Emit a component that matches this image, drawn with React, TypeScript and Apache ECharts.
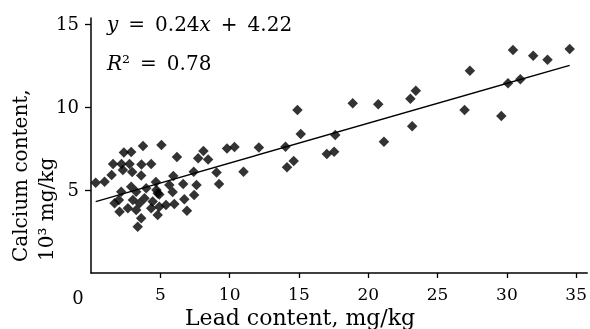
import React, { useEffect, useRef } from "react";
import * as echarts from "echarts";

// Lead content, mg/kg
const leadX = [
  2.37, 2.9, 3.75, 5.08, 6.2, 8.11, 7.73, 8.45, 9.81, 10.35, 12.11, 14.03,
  1.59, 2.2, 2.78, 3.64, 4.34, 2.3, 2.97, 1.49, 3.62, 5.94, 7.41, 9.06, 11.0,
  0.34, 0.98, 4.68, 5.65, 6.65, 7.61, 9.24, 2.18, 2.9, 3.26, 3.98, 4.72, 4.81,
  4.93, 5.89, 7.44, 1.7, 2.01, 2.66, 3.02, 3.5, 3.86, 4.34, 4.45, 4.93, 2.06,
  3.26, 3.62, 3.37, 4.81, 5.41, 6.01, 6.73, 6.92, 14.14,
  14.89, 15.13, 14.62, 17.01, 17.54, 17.62, 18.88, 20.72, 21.13, 23.04, 23.43,
  23.17, 26.95, 27.33, 29.6, 30.08, 30.44, 30.97, 31.9, 32.93, 34.53,
];
// Calcium content, 10^3 mg/kg
const calciumY = [
  7.26, 7.29, 7.65, 7.71, 6.99, 7.35, 6.91, 6.84, 7.5, 7.59, 7.56, 7.61,
  6.57, 6.57, 6.57, 6.54, 6.57, 6.2, 6.08, 5.9, 5.87, 5.84, 6.1, 6.05, 6.1,
  5.44, 5.5, 5.48, 5.3, 5.36, 5.3, 5.36, 4.9, 5.2, 4.9, 5.1, 5.0, 4.8,
  4.73, 4.88, 4.7, 4.2, 4.4, 3.9, 4.4, 4.2, 4.5, 3.9, 4.3, 3.99, 3.69,
  3.8, 3.3, 2.79, 3.49, 4.1, 4.16, 4.44, 3.75, 6.37,
  9.82, 8.37, 6.75, 7.17, 7.31, 8.31, 10.22, 10.16, 7.91, 10.5, 10.98,
  8.84, 9.82, 12.19, 9.46, 11.43, 13.43, 11.67, 13.09, 12.85, 13.49,
];
const slope = 0.24;
const intercept = 4.22;
const xTicks = [0, 5, 10, 15, 20, 25, 30, 35];
const yTicks = [0, 5, 10, 15];

const FONT = "DejaVu Serif";
const SP = "\u2002";

export default function App() {
  const ref = useRef<HTMLDivElement>(null);
  useEffect(() => {
    if (!ref.current) return;
    const chart = echarts.init(ref.current, undefined, { renderer: "svg" });
    const pts = leadX.map((x, i) => [x, calciumY[i]]);
    const minX = Math.min(...leadX);
    const maxX = Math.max(...leadX);
    const fit = [
      [minX, slope * minX + intercept],
      [maxX, slope * maxX + intercept],
    ];
    chart.setOption({
      animation: false,
      grid: { left: 91, top: 18, right: 0, bottom: 56, containLabel: false },
      xAxis: {
        type: "value",
        min: xTicks[0],
        max: 35.8,
        interval: 5,
        splitLine: { show: false },
        axisLine: { lineStyle: { color: "#000", width: 1.5 } },
        axisTick: { length: 5, lineStyle: { color: "#000", width: 1.3 } },
        axisLabel: {
          showMinLabel: false,
          margin: 12,
          color: "#000",
          fontFamily: FONT,
          fontSize: 17,
        },
      },
      yAxis: {
        type: "value",
        min: yTicks[0],
        max: 15.36,
        interval: 5,
        splitLine: { show: false },
        axisLine: { show: true, lineStyle: { color: "#000", width: 1.5 } },
        axisTick: { show: true, length: 6, lineStyle: { color: "#000", width: 1.3 } },
        axisLabel: {
          showMinLabel: false,
          margin: 12,
          color: "#000",
          fontFamily: FONT,
          fontSize: 18,
        },
      },
      series: [
        {
          type: "scatter",
          data: pts,
          symbol: "diamond",
          symbolSize: 10.5,
          itemStyle: { color: "#000" },
        },
        {
          type: "line",
          data: fit,
          symbol: "none",
          lineStyle: { color: "#000", width: 1.4 },
        },
      ],
      graphic: [
        {
          type: "text",
          x: 78,
          y: 297,
          style: {
            text: "0",
            fill: "#000",
            font: `18px '${FONT}'`,
            textAlign: "center",
            textVerticalAlign: "middle",
          },
        },
        {
          type: "text",
          x: 20,
          y: 262,
          rotation: Math.PI / 2,
          style: {
            text: "Calcium content,",
            fill: "#000",
            font: `20px '${FONT}'`,
            textAlign: "left",
            textVerticalAlign: "middle",
          },
        },
        {
          type: "text",
          x: 46,
          y: 261,
          rotation: Math.PI / 2,
          style: {
            text: "10³ mg/kg",
            fill: "#000",
            font: `20px '${FONT}'`,
            textAlign: "left",
            textVerticalAlign: "middle",
          },
        },
        {
          type: "text",
          x: 185,
          y: 317,
          style: {
            text: "Lead content, mg/kg",
            fill: "#000",
            font: `22px '${FONT}'`,
            textAlign: "left",
            textVerticalAlign: "middle",
          },
        },
        {
          type: "text",
          x: 107,
          y: 24,
          style: {
            text: `{i|y}${SP}=${SP}0.24{i|x}${SP}+${SP}4.22`,
            fill: "#000",
            font: `20px '${FONT}'`,
            textAlign: "left",
            textVerticalAlign: "middle",
            rich: {
              i: { fontStyle: "italic", fontFamily: FONT, fontSize: 20, fill: "#000" },
            },
          },
        },
        {
          type: "text",
          x: 107,
          y: 63,
          style: {
            text: `{i|R}²${SP}=${SP}0.78`,
            fill: "#000",
            font: `20px '${FONT}'`,
            textAlign: "left",
            textVerticalAlign: "middle",
            rich: {
              i: { fontStyle: "italic", fontFamily: FONT, fontSize: 20, fill: "#000" },
            },
          },
        },
      ],
    });
    return () => chart.dispose();
  }, []);
  return (
    <div
      ref={ref}
      style={{ position: "fixed", left: 0, top: 0, width: 590, height: 329 }}
    />
  );
}
